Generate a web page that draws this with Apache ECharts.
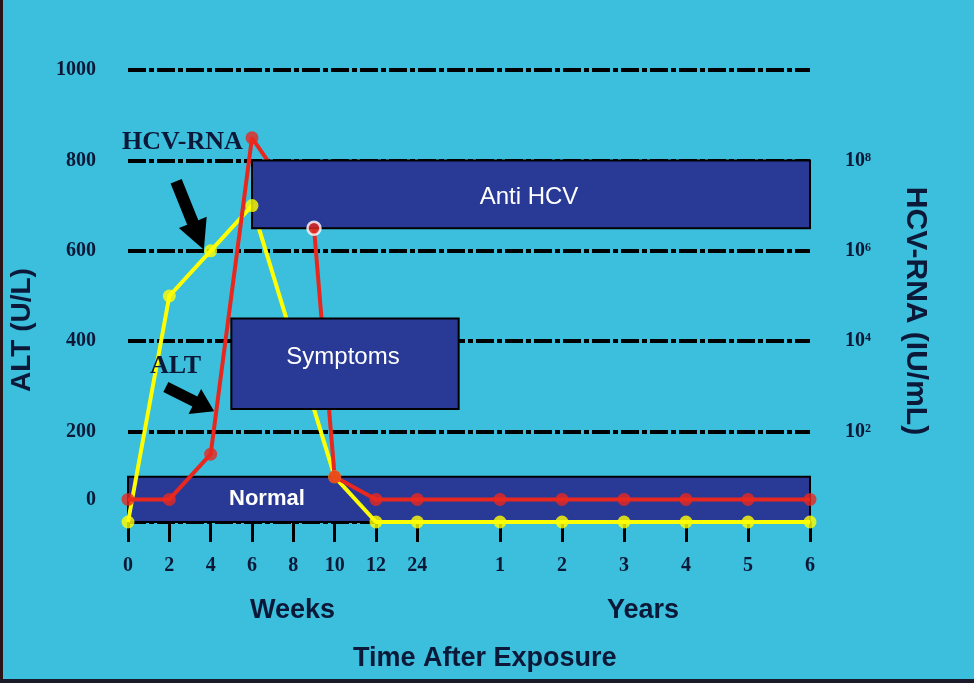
<!DOCTYPE html>
<html>
<head>
<meta charset="utf-8">
<script src="https://cdn.jsdelivr.net/npm/echarts@6/dist/echarts.min.js"></script>
<style>
  html, body { margin: 0; padding: 0; background: #3bbfdc; }
  #chart { width: 974px; height: 683px; }
</style>
</head>
<body>
<div id="chart"></div>
<script>
// Time slots (uniform spacing; blank slots are spacers between labelled times)
const timeLabels = ['0','','2','','4','','6','','8','','10','','12','','24','','','',
                    '1','','','2','','','3','','','4','','','5','','','6'];
// ALT (U/L) - yellow curve
const altValues = [0,null,500,null,600,null,700,null,null,null,100,null,0,null,0,null,null,null,
                   0,null,null,0,null,null,0,null,null,0,null,null,0,null,null,0];
// HCV-RNA (log10 IU/mL) - red curve
const hcvLog10 = [0.5,null,0.5,null,1.5,null,8.5,null,null,6.5,1.0,null,0.5,null,0.5,null,null,null,
                  0.5,null,null,0.5,null,null,0.5,null,null,0.5,null,null,0.5,null,null,0.5];
// Left axis tick values, right axis exponents
const altTicks = [200, 400, 600, 800, 1000];
const rnaExponents = [2, 4, 6, 8];
const supers = {2: '\u00b2', 4: '\u2074', 6: '\u2076', 8: '\u2078'};
// Shaded ranges: [startSlot, endSlot, altLow, altHigh]
const normalRange = [0, 33, 0, 100];
const antiHcvRange = [6, 33, 650, 800];
const symptomsRange = [5, 16, 250, 450];

const BG = '#3bbfdc';
const INK = '#0b1838';
const BOX = '#283a96';
const SERIF = '"Liberation Serif", "DejaVu Serif", serif';
const SANS = '"Liberation Sans", Arial, sans-serif';

const chart = echarts.init(document.getElementById('chart'));
chart.setOption({
  backgroundColor: BG,
  animation: false,
  grid: { left: 127, right: 164, top: 70, bottom: 161 },
  xAxis: {
    type: 'category',
    data: timeLabels,
    boundaryGap: false,
    axisLine: { show: false },
    axisTick: { show: true, length: 20, interval: (i, v) => v !== '', lineStyle: { color: '#000', width: 3 } },
    axisLabel: { interval: (i, v) => v !== '', margin: 34, color: INK, fontFamily: SERIF, fontWeight: 'bold', fontSize: 20 },
    splitLine: { show: false }
  },
  yAxis: [
    {
      type: 'value', min: 0, max: 1000, interval: 50,
      name: 'ALT (U/L)', nameLocation: 'middle', nameGap: 92, nameRotate: 90,
      nameTextStyle: { color: INK, fontFamily: SANS, fontWeight: 'bold', fontSize: 28, padding: [0, 68, 0, 0] },
      axisLine: { show: false }, axisTick: { show: false }, splitLine: { show: false },
      axisLabel: {
        margin: 32, color: INK, fontFamily: SERIF, fontWeight: 'bold', fontSize: 20,
        formatter: v => v === 50 ? '0' : (altTicks.indexOf(v) >= 0 ? String(v) : '')
      }
    },
    {
      type: 'value', min: 0, max: 10, interval: 2, position: 'right',
      name: 'HCV-RNA (IU/mL)', nameLocation: 'middle', nameGap: 90, nameRotate: -90,
      nameTextStyle: { color: INK, fontFamily: SANS, fontWeight: 'bold', fontSize: 30, padding: [0, 0, 0, 30] },
      axisLine: { show: false }, axisTick: { show: false },
      splitLine: { show: true, lineStyle: { color: '#000', width: 4, type: [18, 3, 5, 3] } },
      axisLabel: {
        margin: 35, color: INK, fontFamily: SERIF, fontWeight: 'bold', fontSize: 20,
        formatter: v => rnaExponents.indexOf(v) >= 0 ? '10' + supers[v] : ''
      }
    }
  ],
  series: [
    { name: 'Normal box', type: 'line', data: [], z: 1, yAxisIndex: 0,
      markArea: {
        silent: true, z: 1,
        itemStyle: { color: BOX, borderColor: '#000', borderWidth: 2 },
        label: { show: true, color: '#fff', fontFamily: SANS, fontWeight: 'bold', fontSize: 22,
                 position: [102, '50%'], align: 'left', verticalAlign: 'middle' },
        data: [[{ name: 'Normal', xAxis: normalRange[0], yAxis: normalRange[2] }, { xAxis: normalRange[1], yAxis: normalRange[3] }]]
      } },
    { name: 'ALT', type: 'line', data: altValues, yAxisIndex: 0, connectNulls: true, showSymbol: false, z: 2,
      lineStyle: { color: '#ffff00', width: 4 }, itemStyle: { color: '#ffff00' } },
    { name: 'HCV-RNA', type: 'line', data: hcvLog10, yAxisIndex: 1, connectNulls: true, showSymbol: false, z: 3,
      lineStyle: { color: '#e8281e', width: 4 }, itemStyle: { color: '#e8281e' } },
    { name: 'Boxes', type: 'line', data: [], z: 4, yAxisIndex: 0,
      markArea: {
        silent: true, z: 4,
        itemStyle: { color: BOX, borderColor: '#000', borderWidth: 2 },
        label: { show: true, color: '#fff', fontFamily: SANS, fontSize: 24, position: 'inside' },
        data: [
          [{ name: 'Anti HCV', xAxis: antiHcvRange[0], yAxis: antiHcvRange[2], label: { offset: [-2, 3] } }, { xAxis: antiHcvRange[1], yAxis: antiHcvRange[3] }],
          [{ name: 'Symptoms', xAxis: symptomsRange[0], yAxis: symptomsRange[2], label: { offset: [-2, -6] } }, { xAxis: symptomsRange[1], yAxis: symptomsRange[3] }]
        ]
      },
      markPoint: {
        silent: true, z: 4,
        symbol: 'path://M10,0 L20,24 L14,24 L14,60 L6,60 L6,24 L0,24 Z',
        itemStyle: { color: '#000' },
        label: { show: false },
        data: [
          { coord: [2.55, 678], symbolSize: [30, 74], symbolRotate: -158 },
          { coord: [3.05, 272], symbolSize: [28, 54], symbolRotate: -116.6 }
        ]
      }
    },
    { name: 'ALT points', type: 'scatter', data: altValues, yAxisIndex: 0, z: 5,
      symbol: 'circle', symbolSize: 13, itemStyle: { color: '#ffff00' } },
    { name: 'HCV-RNA points', type: 'scatter', yAxisIndex: 1, z: 6,
      data: hcvLog10.map((v, i) => i === 9 ? { value: v, itemStyle: { borderColor: '#ffffff', borderWidth: 2.5 } } : v),
      symbol: 'circle', symbolSize: 13, itemStyle: { color: '#e8281e' } }
  ],
  graphic: [
    { type: 'text', left: 122, top: 129, z: 10, style: { text: 'HCV-RNA', fill: INK, font: 'bold 26px ' + SERIF } },
    { type: 'text', left: 150, top: 353, z: 10, style: { text: 'ALT', fill: INK, font: 'bold 26px ' + SERIF } },
    { type: 'text', left: 250, top: 597, style: { text: 'Weeks', fill: INK, font: 'bold 27px ' + SANS } },
    { type: 'text', left: 607, top: 597, style: { text: 'Years', fill: INK, font: 'bold 27px ' + SANS } },
    { type: 'text', left: 353, top: 645, style: { text: 'Time After Exposure', fill: INK, font: 'bold 27px ' + SANS } },
    { type: 'rect', left: 0, top: 0, shape: { width: 3, height: 683 }, style: { fill: '#2a1418' } },
    { type: 'rect', left: 0, top: 679, shape: { width: 974, height: 4 }, style: { fill: '#1a1a2a' } }
  ]
});
</script>
</body>
</html>
